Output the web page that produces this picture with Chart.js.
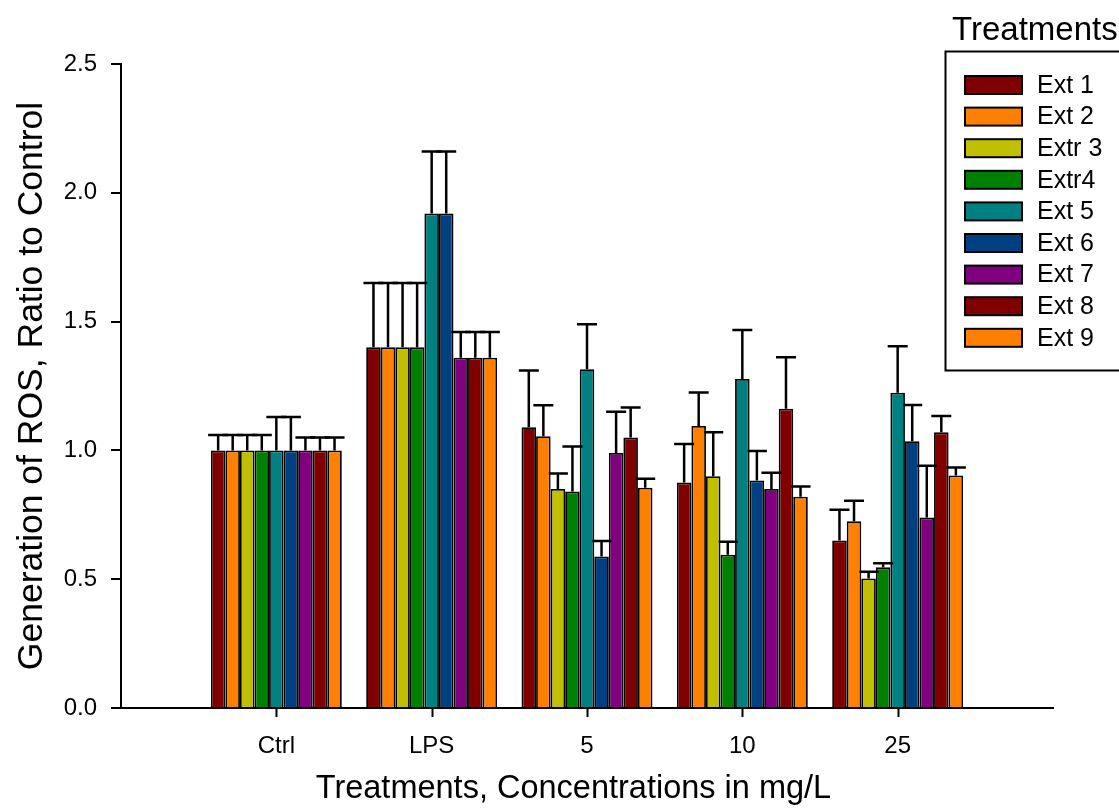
<!DOCTYPE html>
<html>
<head>
<title>Generation of ROS, Ratio to Control</title>
<style>
    html, body { margin: 0; padding: 0; background: #fff; }
    canvas { display: block; }
</style>
</head>
<body>
<canvas id="myChart" width="1119" height="809"></canvas>
<script src="https://cdn.jsdelivr.net/npm/chart.js"></script>
<script>
    // empty slots at both ends keep the axis running past the first and last group
    const categories = ['', 'Ctrl', 'LPS', '5', '10', '25', ''];
    const seriesNames = ['Ext 1', 'Ext 2', 'Extr 3', 'Extr4', 'Ext 5', 'Ext 6', 'Ext 7', 'Ext 8', 'Ext 9'];
    const seriesColors = ['#800000', '#ff8000', '#c0c000', '#008000', '#008080', '#004080', '#800080', '#800000', '#ff8000'];
    const yTicks = [0, 0.5, 1.0, 1.5, 2.0, 2.5];

    // mean values per group: Ctrl, LPS, 5, 10, 25
    const ext1 = [1.00, 1.40, 1.09, 0.875, 0.65];
    const ext2 = [1.00, 1.40, 1.055, 1.095, 0.725];
    const ext3 = [1.00, 1.40, 0.85, 0.90, 0.503];
    const ext4 = [1.00, 1.40, 0.84, 0.595, 0.546];
    const ext5 = [1.00, 1.92, 1.315, 1.277, 1.224];
    const ext6 = [1.00, 1.92, 0.588, 0.883, 1.036];
    const ext7 = [1.00, 1.36, 0.99, 0.85, 0.74];
    const ext8 = [1.00, 1.36, 1.05, 1.162, 1.07];
    const ext9 = [1.00, 1.36, 0.855, 0.82, 0.903];

    // upper error (SD) per group
    const ext1Err = [0.06, 0.25, 0.22, 0.15, 0.12];
    const ext2Err = [0.06, 0.25, 0.12, 0.13, 0.08];
    const ext3Err = [0.06, 0.25, 0.06, 0.17, 0.026];
    const ext4Err = [0.06, 0.25, 0.175, 0.05, 0.016];
    const ext5Err = [0.13, 0.24, 0.175, 0.19, 0.18];
    const ext6Err = [0.13, 0.24, 0.06, 0.115, 0.14];
    const ext7Err = [0.05, 0.10, 0.16, 0.063, 0.20];
    const ext8Err = [0.05, 0.10, 0.117, 0.20, 0.064];
    const ext9Err = [0.05, 0.10, 0.035, 0.04, 0.031];

    const allValues = [ext1, ext2, ext3, ext4, ext5, ext6, ext7, ext8, ext9];
    const allErrors = [ext1Err, ext2Err, ext3Err, ext4Err, ext5Err, ext6Err, ext7Err, ext8Err, ext9Err];

    const fontFamily = 'Arial, "Liberation Sans", sans-serif';

    const datasets = seriesNames.map((name, i) => ({
        label: name,
        data: [null, ...allValues[i], null],
        errors: [null, ...allErrors[i], null],
        backgroundColor: seriesColors[i],
        borderColor: '#000',
        borderWidth: 1.8,
        barPercentage: 1.0,
        categoryPercentage: 0.843
    }));

    // upward error whiskers with a cap, drawn right after each series
    const errorBars = {
        id: 'errorBars',
        afterDatasetDraw(chart, args) {
            const ctx = chart.ctx;
            const ds = chart.data.datasets[args.index];
            const yScale = chart.scales.y;
            ctx.save();
            ctx.strokeStyle = '#000';
            ctx.lineWidth = 2.5;
            args.meta.data.forEach((bar, i) => {
                if (ds.data[i] == null || ds.errors[i] == null) return;
                const top = yScale.getPixelForValue(ds.data[i] + ds.errors[i]);
                ctx.beginPath();
                ctx.moveTo(bar.x, bar.y);
                ctx.lineTo(bar.x, top);
                ctx.moveTo(bar.x - 10, top);
                ctx.lineTo(bar.x + 10, top);
                ctx.stroke();
            });
            ctx.restore();
        }
    };

    // tick marks under the named groups only (not at the empty end slots)
    const groupTicks = {
        id: 'groupTicks',
        afterDraw(chart) {
            const ctx = chart.ctx;
            const xScale = chart.scales.x;
            ctx.save();
            ctx.strokeStyle = '#000';
            ctx.lineWidth = 2;
            categories.forEach((label, i) => {
                if (!label) return;
                const x = Math.round(xScale.getPixelForValue(i)) + 0.5;
                ctx.beginPath();
                ctx.moveTo(x, xScale.top);
                ctx.lineTo(x, xScale.top + 9);
                ctx.stroke();
            });
            ctx.restore();
        }
    };

    // framed legend in the top right corner
    const boxLegend = {
        id: 'boxLegend',
        afterDraw(chart) {
            const ctx = chart.ctx;
            const left = 945.5, top = 51.5, rowStep = 31.6, firstRow = 85;
            ctx.save();
            ctx.fillStyle = '#000';
            ctx.textAlign = 'left';
            ctx.textBaseline = 'alphabetic';
            ctx.font = '33px ' + fontFamily;
            ctx.fillText('Treatments', 952, 40);

            ctx.fillStyle = '#fff';
            ctx.fillRect(left, top, 200, 319);
            ctx.strokeStyle = '#000';
            ctx.lineWidth = 2;
            ctx.strokeRect(left, top, 200, 319);

            ctx.font = '25px ' + fontFamily;
            ctx.textBaseline = 'middle';
            chart.data.datasets.forEach((ds, i) => {
                const y = firstRow + i * rowStep;
                ctx.fillStyle = ds.backgroundColor;
                ctx.fillRect(965, y - 9, 57, 18);
                ctx.lineWidth = 2;
                ctx.strokeRect(965, y - 9, 57, 18);
                ctx.fillStyle = '#000';
                ctx.fillText(ds.label, 1037, y + 1);
            });
            ctx.restore();
        }
    };

    const ctx = document.getElementById('myChart');

    new Chart(ctx, {
        type: 'bar',
        data: {
            labels: categories,
            datasets: datasets
        },
        options: {
            responsive: false,
            animation: false,
            devicePixelRatio: 1,
            layout: {
                padding: { left: 0, right: 66, top: 64, bottom: 0 }
            },
            plugins: {
                legend: { display: false },
                tooltip: { enabled: false }
            },
            scales: {
                x: {
                    type: 'category',
                    offset: false,
                    grid: {
                        offset: false,
                        drawOnChartArea: false,
                        drawTicks: true,
                        tickLength: 9,
                        color: 'rgba(0,0,0,0)'
                    },
                    border: { display: true, color: '#000', width: 2 },
                    ticks: {
                        color: '#000',
                        font: { family: fontFamily, size: 24 },
                        padding: 15,
                        maxRotation: 0,
                        autoSkip: false
                    },
                    title: {
                        display: true,
                        text: 'Treatments, Concentrations in mg/L   ',
                        color: '#000',
                        font: { family: fontFamily, size: 32.5 },
                        padding: { top: 0, bottom: 0 }
                    },
                    afterFit: s => { s.height = 101; }
                },
                y: {
                    min: 0,
                    max: 2.5,
                    afterBuildTicks: s => { s.ticks = yTicks.map(v => ({ value: v })); },
                    grid: {
                        drawOnChartArea: false,
                        tickLength: 10,
                        lineWidth: 2,
                        color: '#000'
                    },
                    border: { color: '#000', width: 2 },
                    ticks: {
                        color: '#000',
                        font: { family: fontFamily, size: 24 },
                        padding: 14,
                        callback: v => Number(v).toFixed(1)
                    },
                    title: {
                        display: true,
                        text: 'Generation of ROS, Ratio to Control',
                        color: '#000',
                        font: { family: fontFamily, size: 35.5 },
                        padding: { top: 11, bottom: 0 }
                    },
                    afterFit: s => { s.width = 121; }
                }
            }
        },
        plugins: [errorBars, groupTicks, boxLegend]
    });
</script>
</body>
</html>
